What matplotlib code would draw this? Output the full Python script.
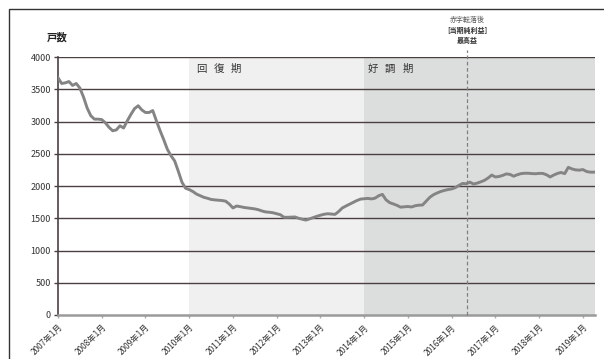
import matplotlib
matplotlib.use("Agg")
import matplotlib.pyplot as plt
from matplotlib.patches import Rectangle

plt.rcParams['font.family'] = ['Noto Sans CJK JP', 'DejaVu Sans']

# Monthly household count, starting January 2007
households = [
    3680, 3590, 3600, 3620, 3560, 3590, 3520, 3380, 3210, 3090, 3037, 3037,
    3030, 2980, 2910, 2857, 2870, 2934, 2900, 3010, 3110, 3200, 3245, 3180,
    3140, 3140, 3170, 3010, 2860, 2720, 2570, 2470, 2390, 2230, 2060, 1965,
    1945, 1915, 1875, 1850, 1825, 1810, 1792, 1785, 1780, 1775, 1765, 1720,
    1660, 1690, 1680, 1668, 1660, 1652, 1645, 1632, 1612, 1598, 1593, 1585,
    1570, 1555, 1515, 1515, 1518, 1520, 1500, 1485, 1472, 1490, 1510, 1530,
    1547, 1562, 1570, 1565, 1560, 1605, 1660, 1690, 1718, 1745, 1775, 1797,
    1803, 1808, 1800, 1812, 1850, 1870, 1785, 1742, 1722, 1700, 1672, 1678,
    1682, 1675, 1694, 1703, 1705, 1765, 1825, 1865, 1892, 1915, 1932, 1945,
    1955, 1975, 2010, 2040, 2035, 2060, 2030, 2045, 2065, 2088, 2125, 2170,
    2140, 2148, 2165, 2188, 2180, 2152, 2175, 2192, 2198, 2198, 2193, 2190,
    2196, 2195, 2175, 2140, 2170, 2195, 2210, 2192, 2290, 2265, 2250, 2246,
    2255, 2225, 2215, 2215,
]
years = list(range(2007, 2020))
year_labels = [f"{y}年1月" for y in years]
y_ticks = list(range(0, 4001, 500))

# Phase boundaries (months since Jan 2007)
recovery_start = 36   # 2010年1月
boom_start = 84       # 2014年1月
record_profit = 112.3  # 赤字転落後 最高益

fig = plt.figure(figsize=(6.04, 3.59), dpi=100)
ax = fig.add_axes([0.096, 0.1226, 0.889, 0.7185])

x_end = 147.3
months = list(range(len(households)))

ax.axvspan(recovery_start, boom_start, color='#f0f0f0', zorder=0, lw=0)
ax.axvspan(boom_start, x_end, color='#dcdddd', zorder=0, lw=0)

for v in y_ticks[1:]:
    ax.axhline(v, color='#4b3f3f', lw=1.0, zorder=1)

ax.plot(months, households, color='#848484', lw=2.1, zorder=3,
        solid_joinstyle='round')

ax.set_xlim(0, x_end)
ax.set_ylim(0, 4000)

ax.set_yticks(y_ticks)
ax.set_yticklabels([str(v) for v in y_ticks], fontsize=6.5, color='#333333')
ax.tick_params(axis='y', length=3, width=1, color='#4b3f3f', pad=2)

ax.set_xticks([12 * i for i in range(len(years))])
ax.set_xticklabels(year_labels, fontsize=6.0, color='#333333',
                   rotation=45, ha='right', rotation_mode='anchor')
ax.tick_params(axis='x', length=2.5, width=1, color='#aaaaaa', pad=3)

for s in ['top', 'right']:
    ax.spines[s].set_visible(False)
ax.spines['left'].set_color('#4b3f3f')
ax.spines['left'].set_linewidth(1.2)
ax.spines['bottom'].set_color('#9a9a9a')
ax.spines['bottom'].set_linewidth(1.8)

# Record-profit marker extending above the plot
ax.plot([record_profit, record_profit], [0, 4110], color='#808080', lw=0.9,
        ls=(0, (3, 2)), clip_on=False, zorder=4)
ax.text(record_profit, 4573, "赤字転落後", fontsize=5.0, color='#555555',
        ha='center', va='center')
ax.text(record_profit, 4418, "[当期純利益]", fontsize=5.0, color='#333333',
        ha='center', va='center', fontweight='bold')
ax.text(record_profit, 4263, "最高益", fontsize=5.0, color='#333333',
        ha='center', va='center', fontweight='bold')


def spaced_label(x0, chars):
    # place each character with a fixed pitch, mimicking wide letter spacing
    for i, ch in enumerate(chars):
        ax.annotate(ch, xy=(x0, 3810), xytext=(i * 12.6, 0),
                    textcoords='offset points', fontsize=7.5,
                    color='#333333', ha='left', va='center')


spaced_label(recovery_start + 1.8, "回復期")
spaced_label(boom_start + 0.9, "好調期")

fig.text(47 / 604, 1 - 37 / 359, "戸数", fontsize=7.5, fontweight='bold',
         color='#222222', ha='left', va='center')

# Outer frame
fig.patches.append(Rectangle((9 / 604, -0.1), 1.2, 1 - 9 / 359 + 0.1,
                             transform=fig.transFigure, fill=False,
                             edgecolor='#333333', lw=1.0))

fig.savefig("out.png", dpi=100)
